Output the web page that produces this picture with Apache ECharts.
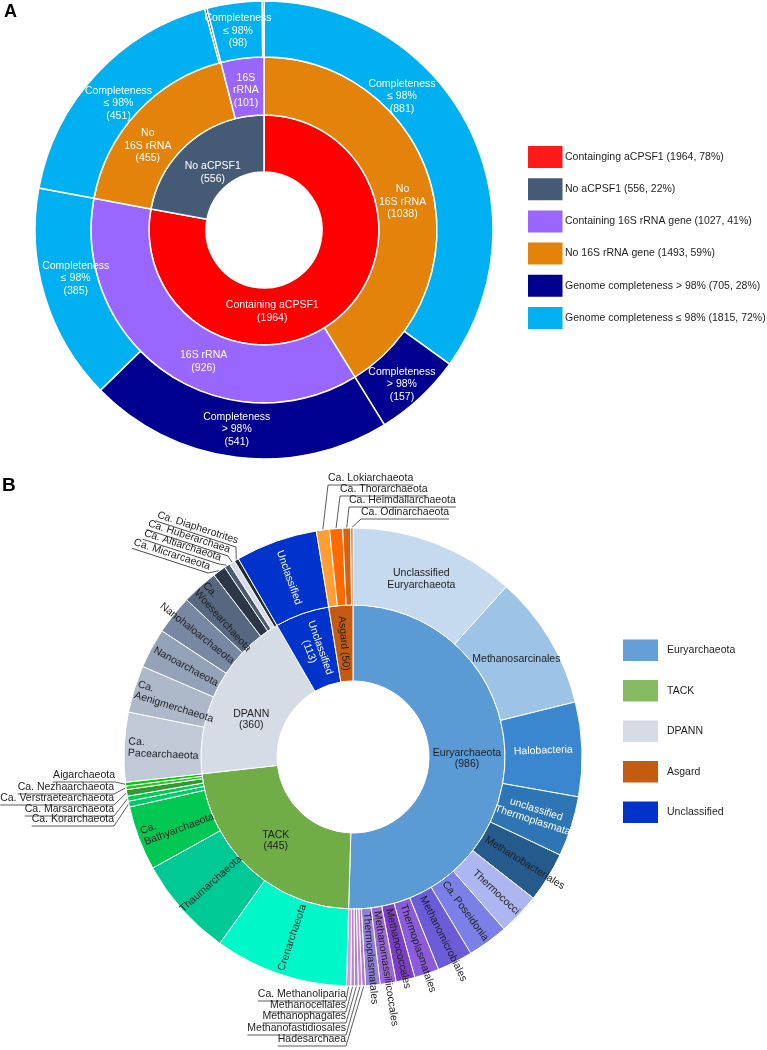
<!DOCTYPE html>
<html>
<head>
<meta charset="utf-8">
<script src="https://cdn.jsdelivr.net/npm/echarts@6/dist/echarts.min.js"></script>
<style>html,body{margin:0;padding:0;background:#fff}#c{width:767px;height:1050px}</style>
</head>
<body>
<div id="c"></div>
<script>
// ================= DATA : panel A =================
const aInnerNames = ['Containing aCPSF1', 'No aCPSF1'];
const aInnerValues = [1964, 556];
const aMidNames = ['No\n16S rRNA', '16S rRNA', 'No\n16S rRNA', '16S\nrRNA'];
const aMidValues = [1038, 926, 455, 101];
const aMidParent = [0, 0, 1, 1];
const aMidHas16S = [false, true, false, true];
const aOuterNames = ['Completeness\n≤ 98%', 'Completeness\n> 98%', 'Completeness\n> 98%', 'Completeness\n≤ 98%',
                     'Completeness\n≤ 98%', 'Completeness\n> 98%', 'Completeness\n≤ 98%', 'Completeness\n> 98%'];
const aOuterValues = [881, 157, 541, 385, 451, 4, 98, 3];
const aOuterParent = [0, 0, 1, 1, 2, 2, 3, 3];
const aOuterHigh = [false, true, true, false, false, true, false, true];
const aLegendLabels = ['Containging aCPSF1 (1964, 78%)', 'No aCPSF1 (556, 22%)', 'Containing 16S rRNA gene (1027, 41%)',
                       'No 16S rRNA gene (1493, 59%)', 'Genome completeness > 98% (705, 28%)', 'Genome completeness ≤ 98% (1815, 72%)'];

// ================= DATA : panel B =================
const bGroupNames = ['Euryarchaeota', 'TACK', 'DPANN', 'Unclassified', 'Asgard'];
const bGroupValues = [986, 445, 360, 113, 50];
const euryNames = ['Unclassified\nEuryarchaeota', 'Methanosarcinales', 'Halobacteria', 'unclassified\nThermoplasmata',
  'Methanobacteriales', 'Thermococci', 'Ca. Poseidonia', 'Methanomicrobiales', 'Thermoplasmatales', 'Methanococcales',
  'Methanomassiliicoccales', 'Thermoplasmatales', 'Hadesarchaea', 'Methanofastidiosales', 'Methanophagales',
  'Methanocellales', 'Ca. Methanoliparia'];
const euryValues = [228, 185, 130, 83, 69, 58, 56, 49, 34, 26, 22, 20, 5, 5, 5, 5, 6];
const tackNames = ['Crenarchaeota', 'Thaumarchaeota', 'Ca.\nBathyarchaeota', 'Ca. Korarchaeota', 'Ca. Marsarchaeota',
  'Ca. Verstraetearchaeota', 'Ca. Nezhaarchaeota', 'Aigarchaeota'];
const tackValues = [184, 138, 89, 8, 7, 9, 5, 5];
const dpannNames = ['Ca.\nPacearchaeota', 'Ca.\nAenigmerchaeota', 'Nanoarchaeota', 'Nanohaloarchaeota', 'Ca.\nWoesearchaeota',
  'Ca. Micrarcaeota', 'Ca. Altiarchaeota', 'Ca. Huberarchaea', 'Ca. Diapherotrites'];
const dpannValues = [96, 65, 55, 54, 50, 18, 8, 8, 6];
const unclNames = ['Unclassified'];
const unclValues = [113];
const asgardNames = ['Ca. Lokiarchaeota', 'Ca. Thorarchaeota', 'Ca. Heimdallarchaeota', 'Ca. Odinarchaeota'];
const asgardValues = [18, 18, 11, 3];
const bLegendLabels = ['Euryarchaeota', 'TACK', 'DPANN', 'Asgard', 'Unclassified'];

// ================= STYLE / LAYOUT =================
const FONT = '"Liberation Sans", Arial, Helvetica, sans-serif';
const TXT = '#1e1e1e';
const A_CENTER = [264, 230];
const A_RADII = [58, 115, 173, 229];
const B_CENTER = [353, 757];
const B_RADII = [76, 152, 229];
const A_LH = 12.5;
const B_LH = 11.5;

const aColInner = ['#FF0000', '#455A74'];
const aColMid = { yes: '#9966FF', no: '#E3830B' };
const aColOuter = { high: '#000090', low: '#00B0F0' };
const aLegendColors = ['#FF1A1A', '#455A74', '#9966FF', '#E3830B', '#000090', '#00B0F0'];
// label shifts [dx, dy] from the sector centre, panel A
const aInnerShift = [[-47, 15], [4, 9]];
const aMidShift = [[0, 11], [21, 13], [-11, 14], [0, 3]];
const aOuterShift = [[-41, -42], [1, 7], [-3, 0], [4, -10], [2, 10], [0, 0], [0, 0], [0, 0]];

const bGroupColors = ['#5B9BD5', '#70AD47', '#D6DCE5', '#0033CC', '#C55A11'];
const bLegendColors = ['#649FD8', '#86BB62', '#D6DCE5', '#C55A11', '#0033CC'];
const euryColors = ['#C5D9EF', '#9DC3E6', '#3A87CF', '#2E75B6', '#255A8C', '#AEB6F2', '#7B80E6', '#6A5BD6', '#8A5CDB',
  '#7A3FC4', '#9A68D6', '#9180D8', '#B47CC8', '#C28CD0', '#A586D6', '#BE82C8', '#CDA0D6'];
const tackColors = ['#00F8C8', '#00C995', '#00C853', '#00CC66', '#00CC55', '#339933', '#2BC22B', '#00CC00'];
const dpannColors = ['#C1C9D6', '#ADB8C8', '#94A2B8', '#7888A3', '#56677F', '#2B3646', '#4A5A70', '#D6DCE5', '#222A35'];
const unclColors = ['#0033CC'];
const asgardColors = ['#FF9E33', '#FF6A00', '#D9600E', '#C55A11'];

function shiftLabel(s, nLines, lh) {
  // move a label by [dx, dy] using padding; vertical uses top alignment
  const dx = s[0], dy = s[1];
  return { verticalAlign: 'top', padding: [dy - nLines * lh / 2, Math.max(0, -2 * dx), 0, Math.max(0, 2 * dx)] };
}
const bInnerLabel = [
  { rotate: 0, formatter: '{b}\n({c})' },
  { rotate: 0, formatter: '{b}\n({c})' },
  Object.assign({ rotate: 0, formatter: '{b}\n({c})' }, shiftLabel([0, 14], 2, B_LH)),
  { formatter: '{b}\n({c})', color: '#fff' },
  { formatter: '{b} ({c})' }
];
const bOuterLabel = {
  'Unclassified\nEuryarchaeota': { rotate: 0 },
  'Methanosarcinales': { rotate: 0 },
  'Halobacteria': { color: '#fff' },
  'unclassified\nThermoplasmata': { color: '#fff' },
  'Methanobacteriales': { align: 'left', distance: 4 },
  'Thermococci': { align: 'right', distance: 2 },
  'Ca. Poseidonia': { align: 'left', distance: 3 },
  'Methanomicrobiales': { align: 'left', distance: 4 },
  'Thermoplasmatales': { align: 'left', distance: 4 },
  'Methanococcales': { align: 'left', distance: 4 },
  'Methanomassiliicoccales': { align: 'left', distance: 4 },
  'Ca.\nBathyarchaeota': { align: 'right', distance: 4 },
  'Ca.\nPacearchaeota': { align: 'right', distance: 4 },
  'Ca.\nAenigmerchaeota': { align: 'right', distance: 2 },
  'Nanoarchaeota': { align: 'left', distance: 2 },
  'Nanohaloarchaeota': { align: 'left', distance: 1 },
  'Ca.\nWoesearchaeota': { align: 'right', distance: 1 },
  'Unclassified': { color: '#fff' }
};
// external (leader-line) labels: name, x, y of underline end, which end ('start'|'end'), rotation deg (clockwise)
const extLayout = [
  ['Ca. Lokiarchaeota', 328, 485, 'start', 0],
  ['Ca. Thorarchaeota', 340, 496, 'start', 0],
  ['Ca. Heimdallarchaeota', 349, 507, 'start', 0],
  ['Ca. Odinarchaeota', 361, 519, 'start', 0],
  ['Ca. Diapherotrites', 236, 547, 'end', 18],
  ['Ca. Huberarchaea', 228, 556, 'end', 18],
  ['Ca. Altiarchaeota', 219, 564, 'end', 18],
  ['Ca. Micrarcaeota', 208, 573, 'end', 18],
  ['Aigarchaeota', 115, 782, 'end', 0],
  ['Ca. Nezhaarchaeota', 114, 794, 'end', 0],
  ['Ca. Verstraetearchaeota', 114, 805, 'end', 0],
  ['Ca. Marsarchaeota', 114, 816, 'end', 0],
  ['Ca. Korarchaeota', 114, 826, 'end', 0],
  ['Ca. Methanoliparia', 346, 1001, 'end', 0],
  ['Methanocellales', 346, 1012, 'end', 0],
  ['Methanophagales', 346, 1023, 'end', 0],
  ['Methanofastidiosales', 346, 1035, 'end', 0],
  ['Hadesarchaea', 346, 1046, 'end', 0]
];
const extNames = extLayout.map(e => e[0]);

// ================= BUILD =================
function nl(s) { return s.split('\n').length; }
function buildA() {
  return aInnerNames.map((n, i) => ({
    name: n, value: aInnerValues[i], itemStyle: { color: aColInner[i] },
    label: shiftLabel(aInnerShift[i], nl(n) + 1, A_LH),
    children: aMidNames.map((m, j) => j).filter(j => aMidParent[j] === i).map(j => ({
      name: aMidNames[j], value: aMidValues[j],
      itemStyle: { color: aMidHas16S[j] ? aColMid.yes : aColMid.no },
      label: shiftLabel(aMidShift[j], nl(aMidNames[j]) + 1, A_LH),
      children: aOuterNames.map((q, k) => k).filter(k => aOuterParent[k] === j).map(k => ({
        name: aOuterNames[k], value: aOuterValues[k],
        itemStyle: { color: aOuterHigh[k] ? aColOuter.high : aColOuter.low },
        label: aOuterValues[k] < 20 ? { show: false } : shiftLabel(aOuterShift[k], nl(aOuterNames[k]) + 1, A_LH)
      }))
    }))
  }));
}
const bChildren = [
  [euryNames, euryValues, euryColors],
  [tackNames, tackValues, tackColors],
  [dpannNames, dpannValues, dpannColors],
  [unclNames, unclValues, unclColors],
  [asgardNames, asgardValues, asgardColors]
];
function buildB() {
  return bGroupNames.map((g, i) => ({
    name: g, value: bGroupValues[i], itemStyle: { color: bGroupColors[i] },
    label: bInnerLabel[i],
    children: bChildren[i][0].map((n, j) => ({
      name: n, value: bChildren[i][1][j], itemStyle: { color: bChildren[i][2][j] },
      label: extNames.indexOf(n) >= 0 ? { show: false } : (bOuterLabel[n] || {})
    }))
  }));
}
// angles of outer leaves (deg clockwise from 12 o'clock), from data
function leafAngles() {
  const total = bGroupValues.reduce((a, b) => a + b, 0);
  const res = {};
  let acc = 0;
  bChildren.forEach(c => c[1].forEach((v, j) => {
    const a0 = acc; acc += v / total * 360;
    res[c[0][j]] = [a0, acc];
  }));
  return res;
}
const mctx = document.createElement('canvas').getContext('2d');
function textW(t, size) { mctx.font = size + 'px ' + FONT; return mctx.measureText(t).width; }

const graphics = [];
// panel letters
graphics.push({ type: 'text', x: 4, y: 3, style: { text: 'A', fontSize: 18, fontWeight: 'bold', fontFamily: FONT, fill: '#000' } });
graphics.push({ type: 'text', x: 2, y: 476, style: { text: 'B', fontSize: 19, fontWeight: 'bold', fontFamily: FONT, fill: '#000' } });
// legend A
aLegendLabels.forEach((t, i) => {
  const cy = 157 + i * 32.2;
  graphics.push({ type: 'rect', shape: { x: 528, y: cy - 11, width: 34.5, height: 22 }, style: { fill: aLegendColors[i] } });
  graphics.push({ type: 'text', x: 565, y: cy, style: { text: t, fontSize: 10.5, fontFamily: FONT, fill: TXT, textVerticalAlign: 'middle', verticalAlign: 'middle' } });
});
// legend B
bLegendLabels.forEach((t, i) => {
  const cy = 650.5 + i * 40.5;
  graphics.push({ type: 'rect', shape: { x: 623, y: cy - 11, width: 35, height: 21.5 }, style: { fill: bLegendColors[i] } });
  graphics.push({ type: 'text', x: 667, y: cy, style: { text: t, fontSize: 10.5, fontFamily: FONT, fill: TXT, textVerticalAlign: 'middle', verticalAlign: 'middle' } });
});
// external labels with underline + leader
const angs = leafAngles();
extLayout.forEach(e => {
  const [name, x, y, side, rot] = e;
  const a = angs[name];
  const mid = (a[0] + a[1]) / 2 * Math.PI / 180;
  const ax = B_CENTER[0] + (B_RADII[2] + 0.5) * Math.sin(mid);
  const ay = B_CENTER[1] - (B_RADII[2] + 0.5) * Math.cos(mid);
  const w = textW(name, 10.5);
  const isEnd = side === 'end';
  graphics.push({
    type: 'group', x: x, y: y, rotation: -rot * Math.PI / 180,
    children: [
      { type: 'text', x: 0, y: -1, style: { text: name, fontSize: 10.5, fontFamily: FONT, fill: TXT,
          textAlign: isEnd ? 'right' : 'left', align: isEnd ? 'right' : 'left', textVerticalAlign: 'bottom', verticalAlign: 'bottom' } },
      { type: 'line', shape: { x1: isEnd ? -w : 0, y1: 0, x2: isEnd ? 0 : w, y2: 0 }, style: { stroke: '#333', lineWidth: 0.8 } }
    ]
  });
  graphics.push({ type: 'line', shape: { x1: x, y1: y, x2: ax, y2: ay }, style: { stroke: '#333', lineWidth: 0.8 } });
});

const chart = echarts.init(document.getElementById('c'), null, { renderer: 'canvas' });
chart.setOption({
  animation: false,
  backgroundColor: '#fff',
  textStyle: { fontFamily: FONT },
  series: [
    {
      type: 'sunburst', center: A_CENTER, radius: [A_RADII[0], A_RADII[3]], sort: null, nodeClick: false,
      startAngle: 90, clockwise: true, emphasis: { disabled: true },
      itemStyle: { borderColor: '#fff', borderWidth: 1.5 },
      label: { rotate: 0, color: '#fff', fontSize: 10.5, lineHeight: A_LH, fontFamily: FONT, formatter: '{b}\n({c})' },
      levels: [{}, { r0: A_RADII[0], r: A_RADII[1] }, { r0: A_RADII[1], r: A_RADII[2] }, { r0: A_RADII[2], r: A_RADII[3] }],
      data: buildA()
    },
    {
      type: 'sunburst', center: B_CENTER, radius: [B_RADII[0], B_RADII[2]], sort: null, nodeClick: false,
      startAngle: 90, clockwise: true, emphasis: { disabled: true },
      itemStyle: { borderColor: '#fff', borderWidth: 1 },
      label: { rotate: 'radial', color: TXT, fontSize: 10.5, lineHeight: B_LH, fontFamily: FONT, formatter: '{b}' },
      levels: [{}, { r0: B_RADII[0], r: B_RADII[1] }, { r0: B_RADII[1], r: B_RADII[2] }],
      data: buildB()
    }
  ],
  graphic: { elements: graphics }
});
</script>
</body>
</html>
